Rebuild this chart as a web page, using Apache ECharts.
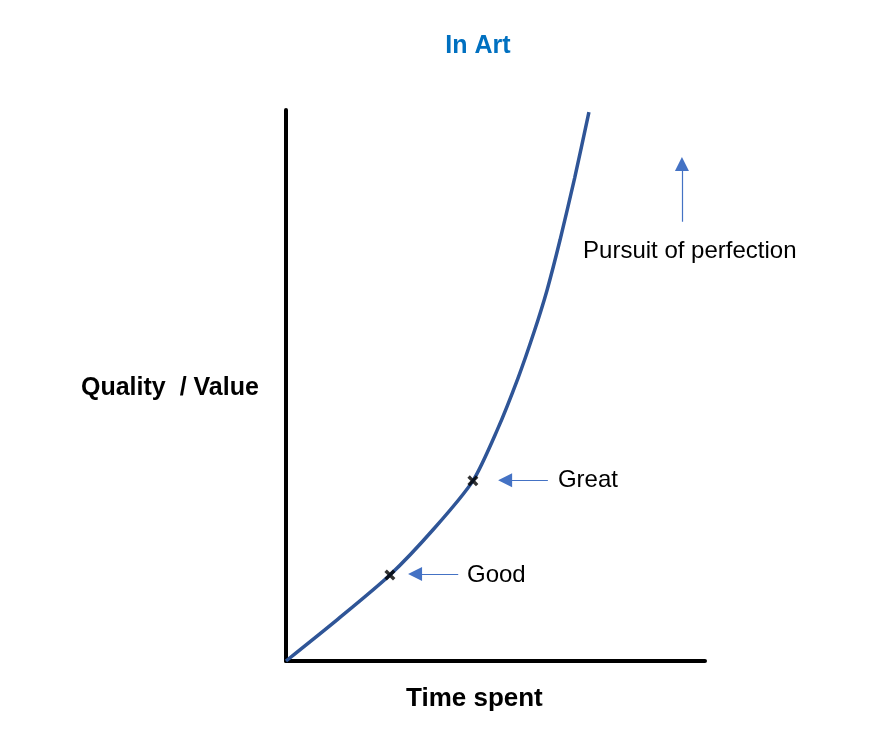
<!DOCTYPE html>
<html>
<head>
<meta charset="utf-8">
<script src="https://cdn.jsdelivr.net/npm/echarts@6/dist/echarts.min.js"></script>
<style>html,body{margin:0;padding:0;background:#fff;}#c{width:885px;height:732px;}</style>
</head>
<body>
<div id="c"></div>
<script>
// Curve (time spent vs quality), in 0-100 units on both axes
const curveX = [0, 12.4, 24.8, 35.3, 44.6, 50.4, 55.4, 59.2, 62.3, 65.4, 68.9, 72.3];
const curveY = [0, 7.6, 15.6, 24.0, 32.7, 41.9, 51.4, 59.7, 67.3, 76.4, 87.7, 99.6];
// Marked points
const markX = [24.8, 44.6];
const markY = [15.6, 32.7];
// Annotation arrows: [fromX, fromY, toX, toY]
const arrowFromX = [62.5, 41.1, 94.5];
const arrowFromY = [32.8, 15.8, 79.7];
const arrowToX = [52.3, 30.8, 94.5];
const arrowToY = [32.8, 15.8, 90.2];
// Annotation labels
const labelText = ['Great', 'Good', 'Pursuit of perfection'];
const labelX = [64.9, 43.2, 70.9];
const labelY = [32.8, 15.5, 74.3];

const chart = echarts.init(document.getElementById('c'));
const FONT = '"Liberation Sans", Arial, sans-serif';
chart.setOption({
  animation: false,
  title: {
    text: 'In Art', left: 473, top: 29, textAlign: 'center',
    textStyle: { color: '#0070c0', fontSize: 25, fontWeight: 'bold', fontFamily: FONT }
  },
  grid: { left: 286, right: 180, top: 110, bottom: 71 },
  xAxis: {
    type: 'value', min: 0, max: 100,
    axisLine: { show: true, lineStyle: { color: '#000', width: 4 } },
    axisTick: { show: false }, axisLabel: { show: false }, splitLine: { show: false }
  },
  yAxis: {
    type: 'value', min: 0, max: 100,
    axisLine: { show: true, lineStyle: { color: '#000', width: 4 } },
    axisTick: { show: false }, axisLabel: { show: false }, splitLine: { show: false }
  },
  graphic: [
    { type: 'text', left: 81, top: 376, style: { text: 'Quality  / Value', font: 'bold 25px ' + FONT, fill: '#000' } },
    { type: 'text', left: 406, top: 686, style: { text: 'Time spent', font: 'bold 26px ' + FONT, fill: '#000' } }
  ],
  series: [
    {
      type: 'line', data: curveX.map((x, i) => [x, curveY[i]]),
      smooth: 0.25, showSymbol: false,
      lineStyle: { color: '#2f5597', width: 3.5 }, z: 2
    },
    {
      type: 'scatter', data: markX.map((x, i) => [x, markY[i]]),
      symbol: 'path://M0,2.2L2.2,0L5,2.8L7.8,0L10,2.2L7.2,5L10,7.8L7.8,10L5,7.2L2.2,10L0,7.8L2.8,5Z',
      symbolSize: 11, itemStyle: { color: '#000' }, z: 5
    },
    {
      type: 'lines', coordinateSystem: 'cartesian2d',
      data: arrowFromX.map((x, i) => ({ coords: [[x, arrowFromY[i]], [arrowToX[i], arrowToY[i]]] })),
      symbol: ['none', 'triangle'], symbolSize: 14,
      lineStyle: { color: '#4472c4', width: 1.2, opacity: 1 },
      itemStyle: { color: '#4472c4' }, z: 4
    },
    {
      type: 'scatter', data: labelX.map((x, i) => ({ value: [x, labelY[i]], name: labelText[i] })),
      symbolSize: 0, silent: true,
      label: {
        show: true, position: 'right', distance: 0, formatter: p => p.name,
        color: '#000000', opacity: 1, textBorderWidth: 0, fontSize: 24, fontFamily: FONT
      }
    }
  ]
});
</script>
</body>
</html>
